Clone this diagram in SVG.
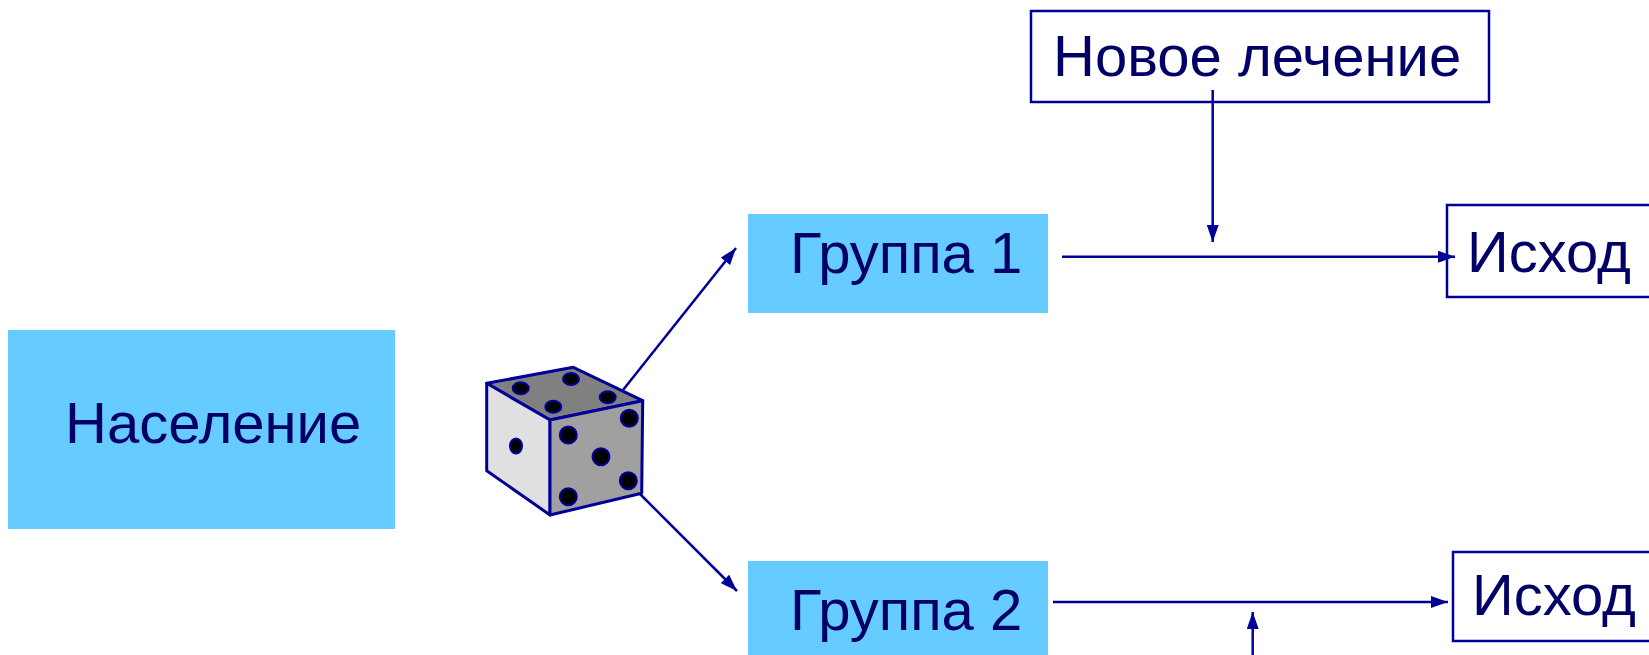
<svg xmlns="http://www.w3.org/2000/svg" width="1649" height="655" viewBox="0 0 1649 655">
  <style>
    .fill { fill: #66CCFF; }
    .frame { fill: #FFFFFF; stroke: #000099; stroke-width: 2.5; }
    .label { font-family: "Liberation Sans", Arial, sans-serif; font-size: 58px; fill: #000066; }
    .link { stroke: #000099; stroke-width: 2.5; fill: none; marker-end: url(#arrow); }
    .face { stroke: #000099; stroke-width: 3; stroke-linejoin: round; }
    .pip { fill: #000000; stroke: #000099; stroke-width: 2; }
  </style>
  <defs>
    <marker id="arrow" markerUnits="userSpaceOnUse" markerWidth="17" markerHeight="12" refX="17" refY="6" orient="auto">
      <path d="M0,0 L17,6 L0,12 Z" fill="#000099"/>
    </marker>
  </defs>

  <rect width="1649" height="655" fill="#FFFFFF"/>

  <!-- Population -->
  <g id="population">
    <rect class="fill" x="8" y="330" width="387" height="199"/>
    <text class="label" x="65" y="443">Население</text>
  </g>

  <!-- Random allocation die -->
  <g id="die">
    <polygon class="face" fill="#808080" points="486.7,383.3 573.3,367.3 642.7,400.7 550,420"/>
    <polygon class="face" fill="#E0E0E0" points="486.7,383.3 550,420 550,515 486.7,470.7"/>
    <polygon class="face" fill="#A0A0A0" points="550,420 642.7,400.7 641.7,493.3 550,515"/>
    <ellipse class="pip" cx="520.7" cy="388.3" rx="8" ry="6"/>
    <ellipse class="pip" cx="571" cy="379" rx="8" ry="6"/>
    <ellipse class="pip" cx="607.7" cy="397.3" rx="8" ry="6"/>
    <ellipse class="pip" cx="553.3" cy="406.7" rx="8" ry="6"/>
    <ellipse class="pip" cx="516" cy="446" rx="6" ry="7.5"/>
    <ellipse class="pip" cx="568.3" cy="435" rx="8.5" ry="8.5"/>
    <ellipse class="pip" cx="629.3" cy="418.3" rx="8.5" ry="8.5"/>
    <ellipse class="pip" cx="601" cy="456.7" rx="8.5" ry="8.5"/>
    <ellipse class="pip" cx="628.3" cy="480.7" rx="8.5" ry="8.5"/>
    <ellipse class="pip" cx="568.3" cy="496.7" rx="8.5" ry="8.5"/>
  </g>

  <!-- Group 1 -->
  <g id="group1">
    <rect class="fill" x="748" y="214" width="300" height="99"/>
    <text class="label" x="790" y="273">Группа 1</text>
  </g>

  <!-- Group 2 -->
  <g id="group2">
    <rect class="fill" x="748" y="561" width="300" height="99"/>
    <text class="label" x="790" y="630">Группа 2</text>
  </g>

  <!-- New treatment -->
  <g id="treatment">
    <rect class="frame" x="1031" y="11" width="458" height="91"/>
    <text class="label" x="1053" y="76">Новое лечение</text>
  </g>

  <!-- Outcome 1 -->
  <g id="outcome1">
    <rect class="frame" x="1447" y="205" width="220" height="92"/>
    <text class="label" x="1467" y="272">Исход</text>
  </g>

  <!-- Outcome 2 -->
  <g id="outcome2">
    <rect class="frame" x="1453" y="552" width="220" height="89"/>
    <text class="label" x="1472" y="615">Исход</text>
  </g>

  <!-- Connectors -->
  <g id="connectors">
    <line class="link" stroke-width="2" x1="623" y1="390" x2="736" y2="248"/>
    <line class="link" stroke-width="2" x1="640" y1="494" x2="737" y2="591"/>
    <line class="link" x1="1212.7" y1="90" x2="1212.7" y2="242"/>
    <line class="link" x1="1062" y1="256.7" x2="1455" y2="256.7"/>
    <line class="link" x1="1053" y1="602" x2="1448" y2="602"/>
    <line class="link" x1="1252.7" y1="660" x2="1252.7" y2="612"/>
  </g>
</svg>
